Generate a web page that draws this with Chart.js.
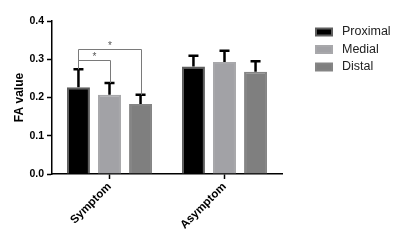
<!DOCTYPE html>
<html>
<head>
<meta charset="utf-8">
<script src="https://cdn.jsdelivr.net/npm/chart.js@4/dist/chart.umd.min.js"></script>
<style>
  html, body { margin: 0; padding: 0; background: #fff; }
  #wrap { width: 400px; height: 244px; }
</style>
</head>
<body>
<div id="wrap"><canvas id="grafico"></canvas></div>
<script>
// dados
const grupos = ['Symptom', 'Asymptom'];
const regioes = ['Proximal', 'Medial', 'Distal'];
const proximal = [0.227, 0.281];
const medial = [0.207, 0.293];
const distal = [0.183, 0.267];
const erroProximal = [0.047, 0.028];
const erroMedial = [0.031, 0.029];
const erroDistal = [0.024, 0.028];
const ticksY = [0.0, 0.1, 0.2, 0.3, 0.4];
// comparações significativas: [grupo, serie a, serie b, altura]
const comparacoes = [
  [0, 0, 1, 0.298, '*'],
  [0, 0, 2, 0.327, '*']
];

const fonte = "'Liberation Sans', Arial, sans-serif";
const cores = ['#000000', '#a2a2a6', '#7f7f7f'];
const bordas = ['#5e5e5e', '#a8a8ab', '#858585'];
const erros = [erroProximal, erroMedial, erroDistal];

// barras de erro (só a metade de cima)
const errorBars = {
  id: 'errorBars',
  afterDatasetsDraw(chart) {
    const ctx = chart.ctx;
    const y = chart.scales.y;
    ctx.save();
    ctx.strokeStyle = '#000';
    ctx.lineWidth = 2.5;
    chart.data.datasets.forEach((ds, i) => {
      const meta = chart.getDatasetMeta(i);
      meta.data.forEach((bar, j) => {
        const topo = y.getPixelForValue(ds.data[j] + erros[i][j]);
        ctx.beginPath();
        ctx.moveTo(bar.x, bar.y);
        ctx.lineTo(bar.x, topo);
        ctx.moveTo(bar.x - 5, topo);
        ctx.lineTo(bar.x + 5, topo);
        ctx.stroke();
      });
    });
    ctx.restore();
  }
};

// colchetes de significância
const brackets = {
  id: 'brackets',
  afterDatasetsDraw(chart) {
    const ctx = chart.ctx;
    const y = chart.scales.y;
    ctx.save();
    ctx.strokeStyle = '#7a7a7a';
    ctx.lineWidth = 1;
    ctx.fillStyle = '#555';
    ctx.font = '10px ' + fonte;
    ctx.textAlign = 'center';
    comparacoes.forEach(c => {
      const g = c[0], a = c[1], b = c[2];
      const barA = chart.getDatasetMeta(a).data[g];
      const barB = chart.getDatasetMeta(b).data[g];
      const yl = Math.round(y.getPixelForValue(c[3])) + 0.5;
      const ya = y.getPixelForValue(chart.data.datasets[a].data[g] + erros[a][g]);
      const yb = y.getPixelForValue(chart.data.datasets[b].data[g] + erros[b][g]);
      const xa = Math.round(barA.x) + 0.5, xb = Math.round(barB.x) + 0.5;
      ctx.beginPath();
      ctx.moveTo(xa, ya);
      ctx.lineTo(xa, yl);
      ctx.lineTo(xb, yl);
      ctx.lineTo(xb, yb);
      ctx.stroke();
      ctx.fillText(c[4], (xa + xb) / 2, yl - 1);
    });
    ctx.restore();
  }
};

// legenda ao lado
const legendaLado = {
  id: 'legendaLado',
  afterDraw(chart) {
    const ctx = chart.ctx;
    ctx.save();
    ctx.font = '12.5px ' + fonte;
    ctx.textBaseline = 'middle';
    chart.data.datasets.forEach((ds, i) => {
      const cy = 32 + i * 17.5;
      ctx.fillStyle = ds.borderColor;
      ctx.fillRect(315, cy - 4.5, 18, 9);
      ctx.fillStyle = ds.backgroundColor;
      ctx.fillRect(317, cy - 2.5, 14, 5);
      ctx.fillStyle = '#222';
      ctx.fillText(ds.label, 342, cy);
    });
    ctx.restore();
  }
};

const series = [proximal, medial, distal];

new Chart(document.getElementById('grafico'), {
  type: 'bar',
  data: {
    labels: grupos,
    datasets: regioes.map((r, i) => ({
      label: r,
      data: series[i],
      backgroundColor: cores[i],
      borderColor: bordas[i],
      borderWidth: 2,
      categoryPercentage: 0.81,
      barPercentage: 0.74
    }))
  },
  options: {
    responsive: true,
    maintainAspectRatio: false,
    animation: false,
    layout: { padding: { top: 21, right: 118, left: 0, bottom: 0 } },
    plugins: {
      legend: { display: false },
      tooltip: { enabled: false }
    },
    scales: {
      x: {
        offset: true,
        grid: { display: true, drawOnChartArea: false, offset: false, tickLength: 5, color: '#000', tickWidth: 1.5 },
        border: { color: '#000', width: 1.5 },
        ticks: {
          color: '#000',
          font: { family: fonte, size: 11.5, weight: 'bold' },
          minRotation: 45,
          maxRotation: 45,
          padding: 1
        },
        afterFit(s) { s.height = 70; }
      },
      y: {
        min: 0,
        max: 0.4,
        afterBuildTicks(s) { s.ticks = ticksY.map(v => ({ value: v })); },
        grid: { display: true, drawOnChartArea: false, tickLength: 5, color: '#000', tickWidth: 1.5 },
        border: { color: '#000', width: 1.5 },
        ticks: {
          color: '#000',
          font: { family: fonte, size: 10.5, weight: 'bold' },
          padding: 3,
          callback: v => v.toFixed(1)
        },
        title: {
          display: true,
          text: 'FA value',
          color: '#000',
          font: { family: fonte, size: 12, weight: 'bold' },
          padding: { top: 12, bottom: 4 }
        },
        afterFit(s) { s.width = 52; }
      }
    }
  },
  plugins: [errorBars, brackets, legendaLado]
});
</script>
</body>
</html>
